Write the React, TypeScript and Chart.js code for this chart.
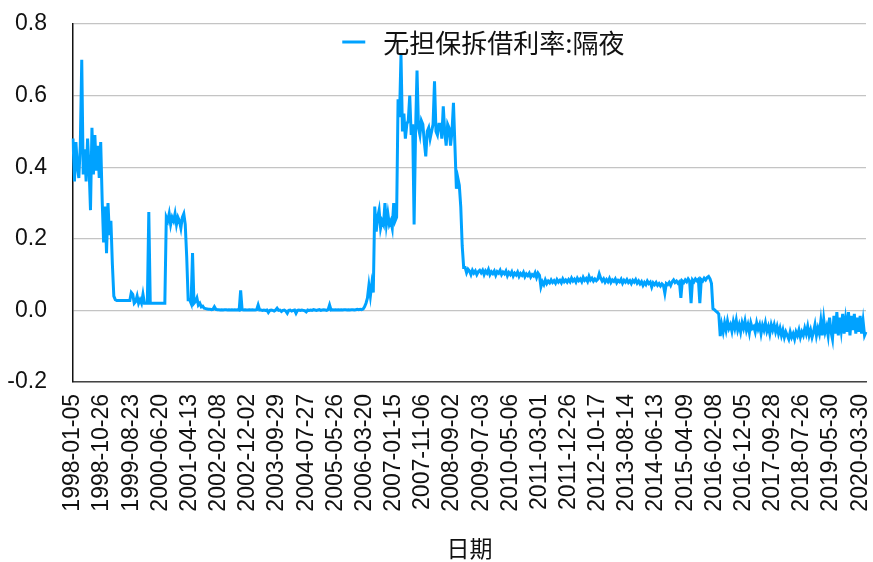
import { useEffect, useRef } from 'react';
import { Chart, registerables } from 'chart.js';

Chart.register(...registerables);

// Tick labels on the category axis (one every POINTS_PER_TICK samples)
const TICK_DATES = [
  '1998-01-05', '1998-10-26', '1999-08-23', '2000-06-20', '2001-04-13', '2002-02-08',
  '2002-12-02', '2003-09-29', '2004-07-27', '2005-05-26', '2006-03-20', '2007-01-15',
  '2007-11-06', '2008-09-02', '2009-07-03', '2010-05-06', '2011-03-01', '2011-12-26',
  '2012-10-17', '2013-08-14', '2014-06-13', '2015-04-09', '2016-02-08', '2016-12-05',
  '2017-09-28', '2018-07-26', '2019-05-30', '2020-03-30',
];
const POINTS_PER_TICK = 20;

const SERIES_NAME = '无担保拆借利率:隔夜';
const X_TITLE = '日期';

const RATE = [
  // 1998-01-05 ..
  0.48, 0.36, 0.47, 0.40, 0.37, 0.46, 0.70, 0.38, 0.45, 0.36, 0.48, 0.40, 0.28, 0.51, 0.38, 0.49, 0.39, 0.46, 0.37, 0.47,
  // 1998-10-26 ..
  0.31, 0.19, 0.29, 0.16, 0.30, 0.21, 0.25, 0.13, 0.04, 0.03, 0.028, 0.028, 0.028, 0.028, 0.028, 0.028, 0.028, 0.028, 0.028, 0.028,
  // 1999-08-23 ..
  0.05, 0.045, 0.02, 0.025, 0.04, 0.02, 0.03, 0.02, 0.045, 0.02, 0.02, 0.02, 0.275, 0.02, 0.02, 0.02, 0.02, 0.02, 0.02, 0.02,
  // 2000-06-20 ..
  0.02, 0.02, 0.02, 0.02, 0.26, 0.25, 0.27, 0.24, 0.26, 0.25, 0.27, 0.24, 0.26, 0.25, 0.23, 0.26, 0.27, 0.24, 0.15, 0.03,
  // 2001-04-13 ..
  0.03, 0.02, 0.16, 0.02, 0.025, 0.035, 0.015, 0.02, 0.01, 0.012, 0.006, 0.005, 0.004, 0.003, 0.003, 0.002, 0.003, 0.01, 0.003, 0.002,
  // 2002-02-08 ..
  0.002, 0.001, 0.002, 0.001, 0.002, 0.002, 0.001, 0.002, 0.001, 0.002, 0.001, 0.002, 0.001, 0.002, 0.001, 0.056, 0.002, 0.001, 0.002, 0.001,
  // 2002-12-02 ..
  0.001, 0.002, 0.001, 0.002, 0.001, 0.001, 0.002, 0.015, 0.001, 0.001, 0.0, 0.001, 0.0, 0.001, -0.006, 0.0, 0.001, 0.0, -0.002, 0.001,
  // 2003-09-29 ..
  0.006, 0.0, 0.001, -0.003, 0.0, 0.001, -0.002, -0.008, 0.0, 0.001, -0.002, 0.0, 0.001, -0.008, 0.0, 0.001, 0.0, 0.001, 0.0, -0.001,
  // 2004-07-27 ..
  -0.004, 0.001, 0.0, 0.001, 0.0, 0.002, 0.001, 0.0, 0.001, 0.002, 0.0, 0.001, 0.002, 0.001, 0.0, 0.002, 0.015, 0.001, 0.002, 0.001,
  // 2005-05-26 ..
  0.002, 0.001, 0.002, 0.001, 0.002, 0.001, 0.002, 0.002, 0.001, 0.002, 0.001, 0.002, 0.002, 0.001, 0.002, 0.003, 0.002, 0.003, 0.002, 0.004,
  // 2006-03-20 ..
  0.01, 0.02, 0.035, 0.07, 0.04, 0.075, 0.05, 0.29, 0.22, 0.26, 0.28, 0.23, 0.25, 0.24, 0.30, 0.24, 0.27, 0.24, 0.25, 0.23,
  // 2007-01-15 ..
  0.30, 0.25, 0.26, 0.59, 0.54, 0.715, 0.50, 0.55, 0.48, 0.52, 0.53, 0.60, 0.49, 0.52, 0.24, 0.50, 0.67, 0.51, 0.49, 0.53,
  // 2007-11-06 ..
  0.52, 0.47, 0.43, 0.50, 0.51, 0.48, 0.50, 0.52, 0.64, 0.50, 0.49, 0.52, 0.52, 0.48, 0.57, 0.50, 0.46, 0.52, 0.51, 0.46,
  // 2008-09-02 ..
  0.50, 0.58, 0.46, 0.34, 0.37, 0.35, 0.29, 0.18, 0.12, 0.12, 0.105, 0.115, 0.11, 0.10, 0.112, 0.104, 0.11, 0.10, 0.108, 0.112,
  // 2009-07-03 ..
  0.105, 0.112, 0.10, 0.11, 0.104, 0.114, 0.10, 0.108, 0.103, 0.11, 0.098, 0.108, 0.104, 0.112, 0.10, 0.107, 0.102, 0.11, 0.097, 0.106,
  // 2010-05-06 ..
  0.10, 0.108, 0.096, 0.104, 0.099, 0.107, 0.095, 0.103, 0.098, 0.106, 0.094, 0.102, 0.097, 0.104, 0.093, 0.10, 0.096, 0.105, 0.092, 0.104,
  // 2011-03-01 ..
  0.098, 0.066, 0.08, 0.072, 0.085, 0.075, 0.082, 0.077, 0.085, 0.078, 0.083, 0.076, 0.086, 0.079, 0.084, 0.077, 0.088, 0.08, 0.085, 0.079,
  // 2011-12-26 ..
  0.086, 0.08, 0.09, 0.082, 0.087, 0.079, 0.09, 0.083, 0.088, 0.08, 0.092, 0.084, 0.089, 0.081, 0.095, 0.085, 0.09, 0.082, 0.088, 0.083,
  // 2012-10-17 ..
  0.087, 0.102, 0.09, 0.082, 0.088, 0.079, 0.086, 0.08, 0.089, 0.078, 0.085, 0.081, 0.088, 0.077, 0.084, 0.08, 0.087, 0.076, 0.084, 0.079,
  // 2013-08-14 ..
  0.086, 0.078, 0.083, 0.075, 0.084, 0.079, 0.086, 0.076, 0.082, 0.074, 0.08, 0.07, 0.078, 0.072, 0.082, 0.075, 0.079, 0.065, 0.077, 0.072,
  // 2014-06-13 ..
  0.078, 0.07, 0.075, 0.068, 0.074, 0.07, 0.048, 0.075, 0.072, 0.078, 0.07, 0.08, 0.085, 0.078, 0.082, 0.076, 0.08, 0.035, 0.082, 0.078,
  // 2015-04-09 ..
  0.085, 0.08, 0.088, 0.082, 0.02, 0.085, 0.08, 0.088, 0.083, 0.087, 0.02, 0.086, 0.082, 0.09, 0.085, 0.092, 0.095, 0.088, 0.075, 0.005,
  // 2016-02-08 ..
  0.002, -0.002, -0.005, -0.01, -0.072, -0.04, -0.06, -0.035, -0.055, -0.03, -0.05, -0.04, -0.058, -0.032, -0.05, -0.028, -0.055, -0.04, -0.06, -0.035,
  // 2016-12-05 ..
  -0.05, -0.03, -0.055, -0.04, -0.062, -0.035, -0.05, -0.045, -0.06, -0.035, -0.052, -0.04, -0.065, -0.042, -0.055, -0.035, -0.058, -0.045, -0.065, -0.04,
  // 2017-09-28 ..
  -0.055, -0.04, -0.06, -0.045, -0.065, -0.05, -0.07, -0.055, -0.075, -0.06, -0.07, -0.08, -0.06, -0.075, -0.065, -0.08, -0.06, -0.07, -0.055, -0.075,
  // 2018-07-26 ..
  -0.06, -0.07, -0.05, -0.065, -0.045, -0.07, -0.055, -0.075, -0.06, -0.04, -0.07, -0.05, -0.065, -0.03, -0.07, -0.025, -0.06, -0.045, -0.07, -0.02,
  // 2019-05-30 ..
  -0.06, -0.08, -0.015, -0.065, -0.005, -0.07, -0.02, -0.055, -0.01, -0.065, -0.025, -0.06, -0.005, -0.07, -0.015, -0.055, -0.01, -0.065, -0.02, -0.06,
  // 2020-03-30 ..
  -0.015, -0.065, -0.03, -0.07, -0.06,
];

const Y_MIN = -0.2;
const Y_MAX = 0.8;
const Y_STEP = 0.2;

const LINE_COLOR = '#00a2ff';
const TEXT_COLOR = '#111111';
const NUM_FONT = '"Liberation Sans", Arial, Helvetica, sans-serif';
const CJK_FONT = '"Noto Sans CJK SC", "Noto Sans", sans-serif';

const labels = RATE.map((_, i) =>
  i % POINTS_PER_TICK === 0 ? (TICK_DATES[i / POINTS_PER_TICK] ?? '') : ''
);

const innerLegend = {
  id: 'innerLegend',
  afterDraw(chart: any) {
    const { ctx, chartArea } = chart;
    const ds = chart.data.datasets[0];
    ctx.save();
    ctx.font = `26px ${CJK_FONT}`;
    const tw = ctx.measureText(ds.label).width;
    const sw = 23;
    const gap = 18;
    const total = sw + gap + tw;
    const cx = chartArea.left + chartArea.width * 0.5175;
    const x0 = cx - total / 2;
    const y = chartArea.top + 18;
    ctx.strokeStyle = ds.borderColor;
    ctx.lineWidth = 3;
    ctx.beginPath();
    ctx.moveTo(x0, y);
    ctx.lineTo(x0 + sw, y);
    ctx.stroke();
    ctx.fillStyle = TEXT_COLOR;
    ctx.textBaseline = 'middle';
    ctx.textAlign = 'left';
    ctx.fillText(ds.label, x0 + sw + gap, y + 1);
    ctx.restore();
  },
};

export default function App() {
  const canvasRef = useRef<HTMLCanvasElement | null>(null);

  useEffect(() => {
    const canvas = canvasRef.current;
    if (!canvas) return;
    const chart = new Chart(canvas, {
      type: 'line',
      data: {
        labels,
        datasets: [
          {
            label: SERIES_NAME,
            data: RATE,
            borderColor: LINE_COLOR,
            backgroundColor: LINE_COLOR,
            borderWidth: 3,
            pointRadius: 0,
            tension: 0,
            fill: false,
          },
        ],
      },
      options: {
        animation: false,
        responsive: false,
        devicePixelRatio: 1,
        layout: { padding: { top: 24, right: 7, bottom: 0, left: 0 } },
        plugins: {
          legend: { display: false },
          tooltip: { enabled: false },
        },
        scales: {
          x: {
            type: 'category',
            grid: { display: false, drawTicks: false },
            border: { display: true, color: '#444444', width: 1.5 },
            ticks: {
              autoSkip: false,
              maxRotation: 90,
              minRotation: 90,
              padding: 12,
              color: TEXT_COLOR,
              font: { family: NUM_FONT, size: 23 },
            },
            title: {
              display: true,
              text: X_TITLE,
              color: TEXT_COLOR,
              font: { family: CJK_FONT, size: 23 },
              padding: { top: 0, bottom: 0 },
            },
            afterFit: (scale: any) => {
              scale.height = 180;
              scale.paddingLeft = 0;
              scale.paddingRight = 0;
            },
          },
          y: {
            min: Y_MIN,
            max: Y_MAX,
            grid: { color: '#c4c4c4', lineWidth: 1.2, drawTicks: false },
            border: { display: true, color: '#111111', width: 1.5 },
            ticks: {
              stepSize: Y_STEP,
              padding: 26,
              color: TEXT_COLOR,
              font: { family: NUM_FONT, size: 23 },
              callback: (v: any) => Number(v).toFixed(1),
            },
            afterFit: (scale: any) => {
              scale.width = 73;
              scale.paddingTop = 0;
              scale.paddingBottom = 0;
            },
          },
        },
      },
      plugins: [innerLegend],
    });
    return () => chart.destroy();
  }, []);

  return (
    <div style={{ position: 'absolute', left: 0, top: 0, width: 873, height: 562, background: '#ffffff' }}>
      <canvas ref={canvasRef} width={873} height={562} style={{ display: 'block' }} />
    </div>
  );
}
